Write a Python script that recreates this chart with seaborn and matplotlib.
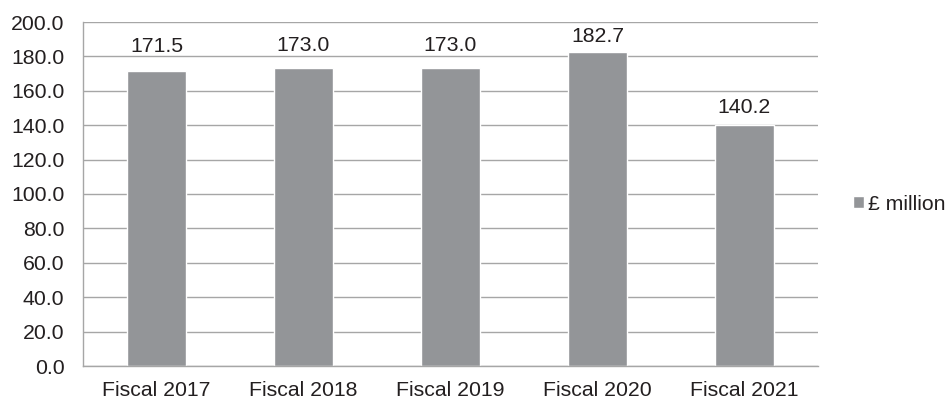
import matplotlib
matplotlib.use("Agg")
import matplotlib.pyplot as plt
import seaborn as sns
import pandas as pd
import numpy as np

categories = ["Fiscal 2017", "Fiscal 2018", "Fiscal 2019", "Fiscal 2020", "Fiscal 2021"]
values = [171.5, 173.0, 173.0, 182.7, 140.2]
series_name = "£ million"
# label gap above each bar (points), as in the reference
label_gaps = [13.7, 12.2, 12.2, 7.2, 8.6]

sns.set_style("white")
plt.rcParams['font.family'] = ['Liberation Sans', 'DejaVu Sans']

df = pd.DataFrame({"category": categories, "value": values, "series": series_name})

fig = plt.figure(figsize=(9.5, 3.99), dpi=100)
ax = fig.add_axes([83/950, 1-366/399, (818-83)/950, (366-22)/399])

bar_color = "#939598"
grid_color = "#a6a6a6"
text_color = "#231f20"
fs = 15.3

sns.barplot(data=df, x="category", y="value", hue="series", palette=[bar_color],
            width=0.4, ax=ax, saturation=1, legend=True)

ax.set_ylim(0, 200)
ax.set_xlim(-0.5, 4.5)
ax.set_yticks(np.arange(0, 201, 20))
ax.set_yticklabels([f"{v:.1f}" for v in np.arange(0, 201, 20)])
ax.yaxis.grid(True, color=grid_color, linewidth=1)
ax.set_axisbelow(True)
ax.set_xlabel("")
ax.set_ylabel("")

for s in ["top", "right"]:
    ax.spines[s].set_visible(False)
for s in ["left", "bottom"]:
    ax.spines[s].set_color(grid_color)
    ax.spines[s].set_linewidth(1)

ax.set_xticks(np.arange(-0.5, 5, 1), minor=True)
ax.tick_params(axis="x", which="major", length=0, labelsize=fs, pad=11)
ax.tick_params(axis="x", which="minor", length=5, color=grid_color, width=1)
ax.tick_params(axis="y", length=4.5, color=grid_color, width=1, labelsize=fs, pad=9)
for lbl in ax.get_xticklabels() + ax.get_yticklabels():
    lbl.set_color(text_color)

for i, (v, g) in enumerate(zip(values, label_gaps)):
    ax.annotate(f"{v:.1f}", xy=(i, v), xytext=(0, g), textcoords="offset points",
                ha="center", va="baseline", fontsize=fs, color=text_color)

leg = ax.legend(loc="center left", bbox_to_anchor=(1.047, 0.47), frameon=False,
                fontsize=fs, handlelength=0.52, handleheight=0.52, handletextpad=0.2,
                borderpad=0, borderaxespad=0)
for t in leg.get_texts():
    t.set_color(text_color)

fig.savefig("out.png", dpi=100)
